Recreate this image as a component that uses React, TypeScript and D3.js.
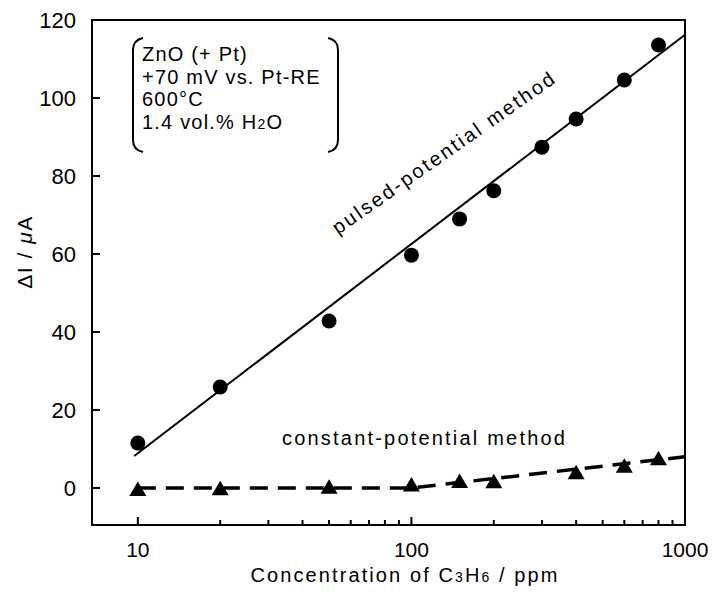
import React from 'react';
import * as d3 from 'd3';

// measured points (ppm vs. delta I in uA)
const pulsedConc = [10, 20, 50, 100, 150, 200, 300, 400, 600, 800];
const pulsedValues = [11.5, 25.9, 42.8, 59.7, 69.0, 76.2, 87.4, 94.6, 104.6, 113.6];
const constConc = [10, 20, 50, 100, 150, 200, 400, 600, 800];
const constValues = [-0.3, -0.1, 0.3, 0.9, 1.8, 1.7, 4.0, 5.7, 7.6];

// guide lines drawn through the points
const pulsedFitConc = [9.7, 1000];
const pulsedFitValues = [8.2, 116.2];
const constFitConc = [10, 100, 1000];
const constFitValues = [0, 0, 8];

const yTicks = [0, 20, 40, 60, 80, 100, 120];
const xMajorTicks = [10, 100, 1000];
const xMinorTicks = [20, 30, 40, 50, 60, 70, 80, 90, 200, 300, 400, 500, 600, 700, 800, 900];

const boxLines = ['ZnO (+ Pt)', '+70 mV vs. Pt-RE', '600\u00B0C'];

const W = 715;
const H = 599;
const margin = { left: 92, right: 30, top: 20, bottom: 74 };
const font = "'Liberation Sans', Arial, sans-serif";

export default function App() {
  const x = d3.scaleLog().domain([6.8, 1000]).range([margin.left, W - margin.right]);
  const y = d3.scaleLinear().domain([-9.5, 120]).range([H - margin.bottom, margin.top]);

  const line = d3.line<[number, number]>()
    .x(d => x(d[0]))
    .y(d => y(d[1]));

  const pulsedFit = line(pulsedFitConc.map((c, i) => [c, pulsedFitValues[i]]));
  const constFit = line(constFitConc.map((c, i) => [c, constFitValues[i]]));

  const [x0, x1] = x.range();
  const [y0, y1] = y.range();

  const tri = (cx: number, cy: number) =>
    `M${cx},${cy - 7.5}L${cx + 8.5},${cy + 7}L${cx - 8.5},${cy + 7}Z`;

  return (
    <svg width={W} height={H} style={{ position: 'absolute', left: 0, top: 0, background: '#fff' }}
      fontFamily={font}>
      {/* frame */}
      <rect x={x0} y={y1} width={x1 - x0} height={y0 - y1} fill="none" stroke="#000" strokeWidth={2} />

      {/* y ticks */}
      {yTicks.map(t => (
        <g key={'y' + t}>
          {t < 120 && <line x1={x0} x2={x0 + 8} y1={y(t)} y2={y(t)} stroke="#000" strokeWidth={2} />}
          <text x={76} y={y(t)} dy="0.36em" textAnchor="end" fontSize={22}>{t}</text>
        </g>
      ))}

      {/* x ticks */}
      {xMajorTicks.map(t => (
        <g key={'x' + t}>
          {t < 1000 && <line x1={x(t)} x2={x(t)} y1={y0} y2={y0 - 8} stroke="#000" strokeWidth={2} />}
          <text x={x(t)} y={557} textAnchor="middle" fontSize={21}>{t}</text>
        </g>
      ))}
      {xMinorTicks.map(t => (
        <line key={'m' + t} x1={x(t)} x2={x(t)} y1={y0} y2={y0 - 5} stroke="#000" strokeWidth={2} />
      ))}

      {/* axis titles */}
      <text x={405} y={582} textAnchor="middle" fontSize={20} letterSpacing={2.1}>
        Concentration of C<tspan fontSize={14}>3</tspan>H<tspan fontSize={14}>6</tspan> / ppm
      </text>
      <text transform="translate(32,252) rotate(-90)" textAnchor="middle" fontSize={21} letterSpacing={1.5}>
        {'\u0394I / '}<tspan fontStyle="italic">{'\u03BC'}</tspan>A
      </text>

      {/* guide lines */}
      <path d={pulsedFit ?? ''} fill="none" stroke="#000" strokeWidth={2} />
      <path d={constFit ?? ''} fill="none" stroke="#000" strokeWidth={3.5} strokeDasharray="18,10" />

      {/* markers */}
      {pulsedConc.map((c, i) => (
        <circle key={'c' + c} cx={x(c)} cy={y(pulsedValues[i])} r={7.5} fill="#000" />
      ))}
      {constConc.map((c, i) => (
        <path key={'t' + c} d={tri(x(c), y(constValues[i]))} fill="#000" />
      ))}

      {/* series labels */}
      <text transform="translate(338,235) rotate(-35)" fontSize={20} letterSpacing={2.4}>pulsed-potential method</text>
      <text x={282} y={445} fontSize={20} letterSpacing={2.2}>constant-potential method</text>

      {/* conditions box */}
      <path d="M143,38 Q133,40 133,50 L133,140 Q133,150 143,152" fill="none" stroke="#000" strokeWidth={2} />
      <path d="M328,38 Q338,40 338,50 L338,140 Q338,150 328,152" fill="none" stroke="#000" strokeWidth={2} />
      {boxLines.map((s, i) => (
        <text key={s} x={142} y={61 + i * 22.5} fontSize={20} letterSpacing={1.2}>{s}</text>
      ))}
      <text x={142} y={128.5} fontSize={20} letterSpacing={1.2}>
        1.4 vol.% H<tspan fontSize={14}>2</tspan>O
      </text>
    </svg>
  );
}
